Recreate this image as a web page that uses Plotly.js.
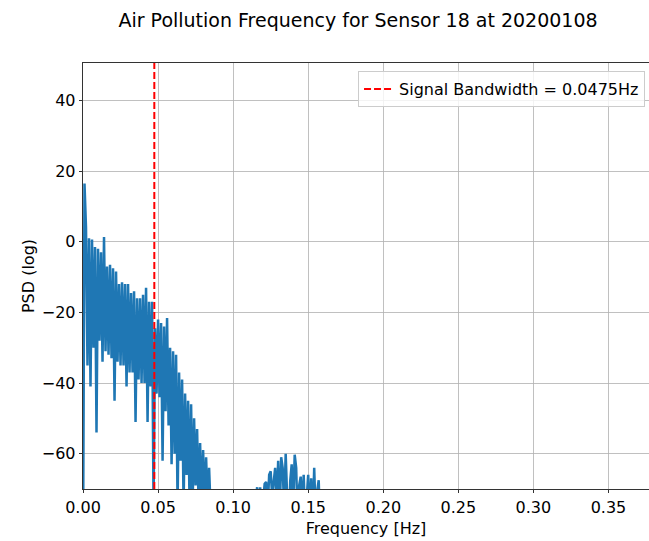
<!DOCTYPE html>
<html>
<head>
<meta charset="utf-8">
<script src="https://cdn.plot.ly/plotly-3.0.1.min.js"></script>
<style>html,body{margin:0;padding:0;background:#fff;}#chart{width:649px;height:541px;}</style>
</head>
<body>
<div id="chart"></div>
<script>
// Frequency grid (Hz): first bin and bin spacing
const freqStart = 0;
const freqStep = 0.001;

// PSD (log) values, one per frequency bin
const psd = [
  -90, 16.5, 4.0, -35, 1.0, -41, 0.6, -30, -1.5, -54,
  -2.0, -28, -3.0, -34, 1.3, -31, -7, -32, -6.5, -33,
  -7.5, -45, -8.4, -34, -12, -35, -11.5, -35, -12, -41,
  -12, -37, -14.5, -37, -14, -51, -16, -39, -16, -40,
  -15, -40, -13, -51, -17, -41, -17, -75, -24.5, -43,
  -22, -44, -23, -62, -24, -48, -21.6, -52, -30, -63,
  -31, -60, -32, -75, -37, -62, -39, -75, -43, -66,
  -45, -75, -46, -75, -50, -69, -53, -75, -57, -75,
  -59, -75, -61, -75, -64, -76,
  -78, -84, -80, -88, -76, -82, -90, -79, -85, -81,
  -77, -86, -83, -89, -80, -75, -84, -92, -78, -81,
  -87, -80, -76, -83, -88, -79, -82, -85, -77, -74,
  -69.5, -80, -69.5, -78, -72, -68.5, -68, -76, -66, -65,
  -72, -67, -64, -75, -62, -78, -61, -64, -76, -60,
  -80, -85, -68, -63, -75, -60.3, -64, -80, -69, -66.5,
  -76, -66, -79, -70.5, -66, -78, -67, -80, -64, -78,
  -70.5, -67.5, -82,
  -82, -88, -79, -85, -91, -84, -80, -87, -90, -83,
  -86, -92, -88, -85, -90, -94, -89
];

// Signal bandwidth marker
const bandwidth = 0.0475;
const bandwidthLabel = 'Signal Bandwidth = 0.0475Hz';

// Axis ticks
const xTicks = [0, 0.05, 0.10, 0.15, 0.20, 0.25, 0.30, 0.35];
const xTickLabels = ['0.00', '0.05', '0.10', '0.15', '0.20', '0.25', '0.30', '0.35'];
const yTicks = [-60, -40, -20, 0, 20, 40];

const titleText = 'Air Pollution Frequency for Sensor 18 at 20200108';
const xTitle = 'Frequency [Hz]';
const yTitle = 'PSD (log)';

const FONT = 'DejaVu Sans, sans-serif';
const FS = 16;

const traces = [
  {
    type: 'scatter', mode: 'lines',
    x0: freqStart, dx: freqStep, y: psd,
    line: {color: '#1f77b4', width: 2.5},
    showlegend: false, hoverinfo: 'skip'
  },
  {
    type: 'scatter', mode: 'lines',
    x: [null], y: [null],
    name: bandwidthLabel,
    line: {color: '#ff0000', width: 2, dash: '7px,3px'},
    showlegend: true
  }
];

const layout = {
  width: 649, height: 541,
  margin: {l: 83, r: 0, t: 63, b: 52, pad: 0},
  paper_bgcolor: '#ffffff', plot_bgcolor: '#ffffff',
  font: {family: FONT, size: FS, color: '#000000'},
  title: {
    text: titleText,
    font: {family: FONT, size: 19, color: '#000000'},
    xref: 'paper', x: 0.486, xanchor: 'center',
    yref: 'container', y: 1 - 20/541, yanchor: 'middle'
  },
  xaxis: {
    range: [0, 0.377],
    tickvals: xTicks, ticktext: xTickLabels,
    ticks: 'outside', ticklen: 3.5, tickwidth: 0.8, tickcolor: '#000',
    showgrid: true, gridcolor: '#b0b0b0', gridwidth: 0.8,
    zeroline: false,
    showline: true, linecolor: '#000', linewidth: 0.8, mirror: true,
    tickfont: {family: FONT, size: FS, color: '#000'},
    title: {text: xTitle, font: {family: FONT, size: FS, color: '#000'}, standoff: 7}
  },
  yaxis: {
    range: [-70, 50.6],
    tickvals: yTicks,
    ticks: 'outside', ticklen: 3.5, tickwidth: 0.8, tickcolor: '#000',
    showgrid: true, gridcolor: '#b0b0b0', gridwidth: 0.8,
    zeroline: false,
    showline: true, linecolor: '#000', linewidth: 0.8, mirror: false,
    tickfont: {family: FONT, size: FS, color: '#000'},
    title: {text: yTitle, font: {family: FONT, size: FS, color: '#000'}, standoff: 3}
  },
  shapes: [
    {
      type: 'line', xref: 'x', yref: 'paper',
      x0: bandwidth, x1: bandwidth, y0: 0, y1: 1,
      line: {color: '#ff0000', width: 2, dash: '7px,3px'},
      layer: 'above'
    }
  ],
  legend: {
    x: 0.993, xanchor: 'right',
    y: 0.981, yanchor: 'top',
    bgcolor: 'rgba(255,255,255,0.8)',
    bordercolor: '#cccccc', borderwidth: 1,
    font: {family: FONT, size: FS, color: '#000'}
  }
};

Plotly.newPlot('chart', traces, layout, {staticPlot: true, displayModeBar: false});
</script>
</body>
</html>
